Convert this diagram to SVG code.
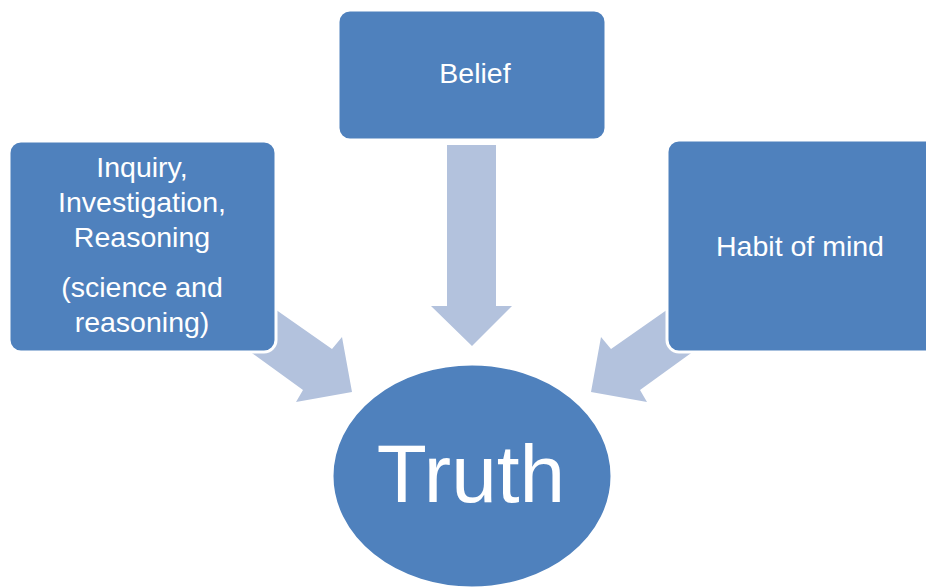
<svg xmlns="http://www.w3.org/2000/svg" width="926" height="587" viewBox="0 0 926 587">
<style>
.box{fill:#4F81BD;stroke:#FFFFFF;stroke-width:3}
.arr{fill:#B3C2DD}
.t{font-family:"Liberation Sans",Arial,sans-serif;fill:#FFFFFF;text-anchor:middle}
</style>
<rect width="926" height="587" fill="#FFFFFF"/>
<g id="connectors">
<polygon class="arr" points="447,145 496,145 496,306 512,306 472,346 431,306 447,306"/>
<polygon class="arr" points="262,300 332,349 342,337 352,392 296,402 303,390 238,343"/>
<polygon class="arr" points="681,300 611,349 601,337 591,392 647,402 640,390 705,343"/>
</g>
<g id="belief">
<rect class="box" x="338" y="10" width="268" height="130" rx="12"/>
<text class="t" x="475" y="83" font-size="28.5">Belief</text>
</g>
<g id="inquiry">
<rect class="box" x="9" y="141" width="267" height="211" rx="12"/>
<text class="t" font-size="28.5"><tspan x="142" y="177">Inquiry,</tspan><tspan x="142" y="212">Investigation,</tspan><tspan x="142" y="247">Reasoning</tspan><tspan x="142" y="297">(science and</tspan><tspan x="142" y="332">reasoning)</tspan></text>
</g>
<g id="habit">
<rect class="box" x="667" y="140" width="280" height="212" rx="12"/>
<text class="t" x="800" y="256" font-size="28.5">Habit of mind</text>
</g>
<g id="truth">
<ellipse cx="472" cy="476" rx="140" ry="112" fill="#4F81BD" stroke="#FFFFFF" stroke-width="3"/>
<text class="t" x="471" y="502" font-size="82">Truth</text>
</g>
</svg>
